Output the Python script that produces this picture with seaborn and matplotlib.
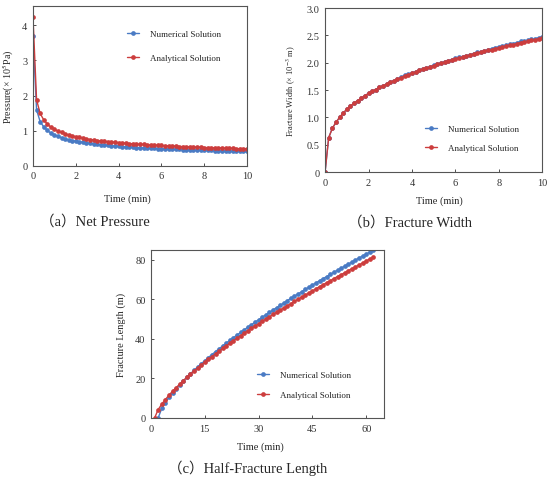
import numpy as np
import pandas as pd
import seaborn as sns
import matplotlib.pyplot as plt

# time axes (min)
t_short = [k / 6 for k in range(61)]
t_num_len = list(range(2, 63))
t_ana_len = list(range(1, 63))

# net pressure (x 10^5 Pa)
p_num = [3.68, 1.59, 1.26, 1.11, 1.01, 0.93, 0.88, 0.84, 0.80, 0.77, 0.74,
         0.72, 0.70, 0.68, 0.67, 0.65, 0.64, 0.62, 0.61, 0.60, 0.59,
         0.58, 0.57, 0.56, 0.56, 0.55, 0.54, 0.54, 0.53, 0.52, 0.52,
         0.51, 0.51, 0.50, 0.50, 0.49, 0.49, 0.48, 0.48, 0.47, 0.47,
         0.47, 0.46, 0.46, 0.46, 0.45, 0.45, 0.45, 0.44, 0.44, 0.44,
         0.43, 0.43, 0.43, 0.43, 0.42, 0.42, 0.42, 0.42, 0.41, 0.41]
p_ana = [4.22, 1.88, 1.49, 1.31, 1.19, 1.10, 1.04, 0.99, 0.95, 0.91, 0.88,
         0.85, 0.83, 0.81, 0.79, 0.77, 0.75, 0.74, 0.72, 0.71, 0.70,
         0.69, 0.68, 0.67, 0.66, 0.65, 0.64, 0.63, 0.63, 0.62, 0.61,
         0.61, 0.60, 0.59, 0.59, 0.58, 0.58, 0.57, 0.57, 0.56, 0.56,
         0.55, 0.55, 0.54, 0.54, 0.53, 0.53, 0.53, 0.52, 0.52, 0.52,
         0.51, 0.51, 0.51, 0.50, 0.50, 0.50, 0.49, 0.49, 0.49, 0.49]

# fracture width (x 10^-3 m)
w_ana = [0.00, 0.63, 0.80, 0.91, 1.00, 1.08, 1.15, 1.21, 1.26, 1.31, 1.35,
         1.40, 1.44, 1.48, 1.51, 1.55, 1.58, 1.61, 1.65, 1.67, 1.70,
         1.73, 1.76, 1.78, 1.81, 1.83, 1.86, 1.88, 1.90, 1.92, 1.95,
         1.97, 1.99, 2.01, 2.03, 2.05, 2.07, 2.09, 2.10, 2.12, 2.14,
         2.16, 2.18, 2.19, 2.21, 2.23, 2.24, 2.26, 2.27, 2.29, 2.30,
         2.32, 2.33, 2.35, 2.37, 2.38, 2.39, 2.41, 2.42, 2.44, 2.45]
w_num = [0.00, 0.63, 0.80, 0.91, 1.00, 1.08, 1.15, 1.21, 1.26, 1.31, 1.35,
         1.40, 1.44, 1.48, 1.51, 1.55, 1.58, 1.61, 1.65, 1.67, 1.70,
         1.74, 1.77, 1.79, 1.82, 1.84, 1.87, 1.89, 1.91, 1.93, 1.96,
         1.98, 2.00, 2.02, 2.04, 2.06, 2.08, 2.10, 2.11, 2.13, 2.15,
         2.17, 2.19, 2.20, 2.22, 2.24, 2.26, 2.28, 2.29, 2.31, 2.32,
         2.34, 2.35, 2.37, 2.39, 2.40, 2.41, 2.43, 2.44, 2.46, 2.47]

# half-fracture length (m)
l_num = [0.0, 4.8, 7.8, 10.4, 12.7, 14.8, 16.9, 18.8, 20.6, 22.4, 24.1,
         25.8, 27.4, 29.0, 30.6, 32.1, 33.6, 35.0, 36.5, 37.9, 39.3,
         40.7, 42.0, 43.3, 44.6, 46.0, 47.2, 48.5, 49.7, 51.0, 52.2,
         53.4, 54.7, 55.8, 57.0, 58.2, 59.4, 60.6, 61.7, 62.8, 63.9,
         65.1, 66.2, 67.3, 68.4, 69.5, 70.6, 71.6, 72.7, 73.8, 74.8,
         75.8, 76.9, 77.9, 78.9, 80.0, 81.0, 82.0, 83.0, 84.0, 85.0]
l_ana = [0.0, 4.2, 7.0, 9.3, 11.5, 13.5, 15.3, 17.1, 18.9, 20.5, 22.2,
         23.7, 25.3, 26.8, 28.2, 29.7, 31.1, 32.5, 33.8, 35.2, 36.5,
         37.8, 39.1, 40.3, 41.6, 42.9, 44.1, 45.3, 46.5, 47.6, 48.9,
         50.0, 51.2, 52.4, 53.5, 54.6, 55.7, 56.8, 57.9, 59.0, 60.1,
         61.2, 62.2, 63.3, 64.3, 65.4, 66.5, 67.5, 68.5, 69.5, 70.6,
         71.6, 72.6, 73.5, 74.6, 75.6, 76.5, 77.5, 78.5, 79.5, 80.5, 81.4]

labels = ['Numerical Solution', 'Analytical Solution']
colors = {'Numerical Solution': '#4a7bc4', 'Analytical Solution': '#cc3d3d'}

sns.set_style('ticks')
plt.rcParams['font.family'] = ['Liberation Serif', 'Noto Sans CJK SC', 'DejaVu Sans']
plt.rcParams['mathtext.fontset'] = 'stix'


def long_df(x1, y1, x2, y2):
    a = pd.DataFrame({'x': x1, 'y': y1, 'series': labels[0]})
    b = pd.DataFrame({'x': x2, 'y': y2, 'series': labels[1]})
    return pd.concat([a, b], ignore_index=True)


def draw(ax, df, leg_xy, spacing):
    sns.lineplot(data=df, x='x', y='y', hue='series', palette=colors,
                 marker='o', markersize=3.4, markeredgewidth=0, linewidth=1.0,
                 ax=ax, sort=False)
    for s in ax.spines.values():
        s.set_color('#555555')
        s.set_linewidth(0.8)
    ax.tick_params(direction='in', length=2.5, width=0.6, labelsize=7.5, pad=4,
                   colors='#333333')
    ax.legend(loc='upper left', bbox_to_anchor=leg_xy, frameon=False,
              fontsize=6.5, handlelength=1.3, handletextpad=1.2,
              labelspacing=spacing, borderpad=0, borderaxespad=0)


fig = plt.figure(figsize=(5.5, 4.81), dpi=100)

# (a) net pressure
ax1 = fig.add_axes([0.060, 0.653, 0.389, 0.333])
draw(ax1, long_df(t_short, p_num, t_short, p_ana), (0.44, 0.85), 1.75)
ax1.set_xlim(0, 10)
ax1.set_ylim(0, 4.55)
ax1.set_yticks([0, 1, 2, 3, 4])
ax1.set_xlabel('Time (min)', fontsize=7.5)
ax1.set_ylabel('Pressure(× 10$^5$Pa)', fontsize=7.2)
ax1.xaxis.set_label_coords(0.44, -0.17)
ax1.yaxis.set_label_coords(-0.08, 0.5)

# (b) fracture width
ax2 = fig.add_axes([0.591, 0.640, 0.395, 0.341])
draw(ax2, long_df(t_short, w_num, t_short, w_ana), (0.46, 0.29), 1.2)
ax2.set_xlim(0, 10)
ax2.set_ylim(0, 3.0)
ax2.set_yticks([0, 0.5, 1.0, 1.5, 2.0, 2.5, 3.0])
ax2.set_yticklabels(['0', '0.5', '1.0', '1.5', '2.0', '2.5', '3.0'])
ax2.set_xlabel('Time (min)', fontsize=7.5)
ax2.set_ylabel('Fracture Width (× 10$^{-3}$ m)', fontsize=6)
ax2.xaxis.set_label_coords(0.525, -0.14)
ax2.yaxis.set_label_coords(-0.125, 0.5)

# (c) half-fracture length
ax3 = fig.add_axes([0.2745, 0.129, 0.424, 0.349])
draw(ax3, long_df(t_num_len, l_num, t_ana_len, l_ana), (0.455, 0.28), 1.3)
ax3.set_xlim(0, 65)
ax3.set_ylim(0, 85)
ax3.set_xticks([0, 15, 30, 45, 60])
ax3.set_yticks([0, 20, 40, 60, 80])
ax3.set_xlabel('Time (min)', fontsize=7.5)
ax3.set_ylabel('Fracture Length (m)', fontsize=7.5)
ax3.xaxis.set_label_coords(0.468, -0.137)
ax3.yaxis.set_label_coords(-0.107, 0.5)

# captions
fig.text(95 / 550, 1 - 222 / 481, '（a）Net Pressure', ha='center', va='center', fontsize=10.5)
fig.text(410 / 550, 1 - 223 / 481, '（b）Fracture Width', ha='center', va='center', fontsize=10.5)
fig.text(248 / 550, 1 - 468 / 481, '（c）Half-Fracture Length', ha='center', va='center', fontsize=10.5)

fig.savefig('out.png', dpi=100)
